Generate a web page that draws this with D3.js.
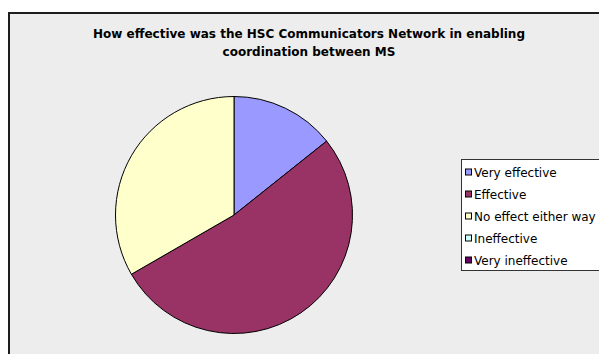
<!DOCTYPE html>
<html>
<head>
<meta charset="utf-8">
<script src="https://cdn.jsdelivr.net/npm/d3@7"></script>
<style>
  html, body { margin: 0; padding: 0; background: #ffffff; }
  svg { display: block; }
</style>
</head>
<body>
<svg id="chart" width="599" height="354"></svg>
<script>
// Survey responses
const categories = ["Very effective", "Effective", "No effect either way", "Ineffective", "Very ineffective"];
const responses = [3, 11, 7, 0, 0];
const sliceColors = ["#9999FF", "#993366", "#FFFFCC", "#CCFFFF", "#660066"];
const titleLines = [
  "How effective was the HSC Communicators Network in enabling",
  "coordination between MS"
];

const svg = d3.select("#chart");
const W = 599, H = 354;

// Chart area panel with dark frame
svg.append("rect")
  .attr("x", 9).attr("y", 13)
  .attr("width", W + 10).attr("height", H + 10)
  .attr("fill", "#EDEDED")
  .attr("stroke", "#1e1e1e")
  .attr("stroke-width", 2);

// Title
svg.append("g")
  .selectAll("text")
  .data(titleLines)
  .join("text")
  .attr("x", 309)
  .attr("y", (d, i) => 38 + i * 18)
  .attr("text-anchor", "middle")
  .attr("font-family", "'DejaVu Sans', sans-serif")
  .attr("font-weight", "bold")
  .attr("font-size", "12px")
  .attr("fill", "#000")
  .text(d => d);

// Pie
const data = categories.map((c, i) => ({ name: c, value: responses[i], color: sliceColors[i] }));
const cx = 234, cy = 215, radius = 118.5;
const pie = d3.pie().value(d => d.value).sort(null);
const arc = d3.arc().innerRadius(0).outerRadius(radius);

svg.append("g")
  .attr("transform", `translate(${cx},${cy})`)
  .selectAll("path")
  .data(pie(data).filter(d => d.data.value > 0))
  .join("path")
  .attr("d", arc)
  .attr("fill", d => d.data.color)
  .attr("stroke", "#000")
  .attr("stroke-width", 1)
  .attr("stroke-linejoin", "round");

// Legend
const legend = svg.append("g");
legend.append("rect")
  .attr("x", 461.5).attr("y", 159.5)
  .attr("width", 160).attr("height", 111)
  .attr("fill", "#ffffff")
  .attr("stroke", "#333")
  .attr("stroke-width", 1);

const rowY = d3.scalePoint()
  .domain(categories)
  .range([172.5, 260.5]);

const items = legend.selectAll("g.item")
  .data(data)
  .join("g")
  .attr("class", "item")
  .attr("transform", d => `translate(0,${rowY(d.name)})`);

items.append("rect")
  .attr("x", 465.5).attr("y", -3.5)
  .attr("width", 6).attr("height", 6)
  .attr("fill", d => d.color)
  .attr("stroke", "#000")
  .attr("stroke-width", 1);

items.append("text")
  .attr("x", 474)
  .attr("y", 4.5)
  .attr("font-family", "'DejaVu Sans', sans-serif")
  .attr("font-size", "12px")
  .attr("fill", "#000")
  .text(d => d.name);
</script>
</body>
</html>
